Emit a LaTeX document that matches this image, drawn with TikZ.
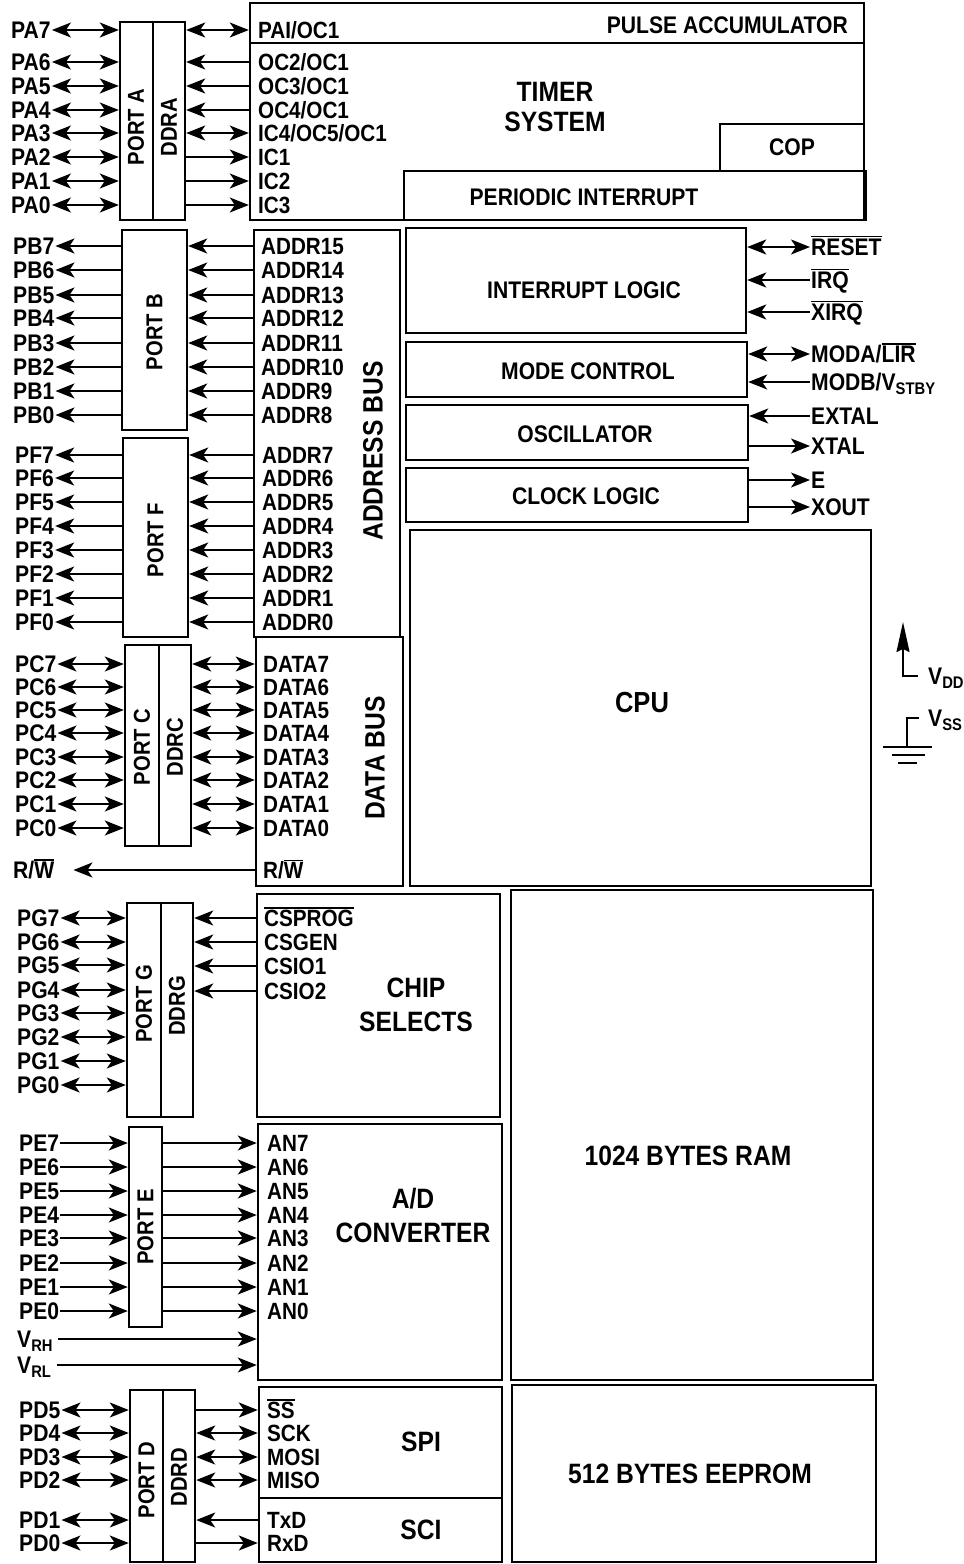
\documentclass[tikz,border=0pt]{standalone}
\usepackage{fontspec}
\setmainfont[FakeStretch=0.88]{Liberation Sans}
\usetikzlibrary{arrows.meta,fit,calc}
\newcommand{\ovl}[1]{\vbox{\hrule height 1.4pt\kern1.3pt\hbox{#1}}}
\newcommand{\sla}{/}
\newcommand{\pinf}{\fontsize{24}{26}\selectfont\bfseries}
\newcommand{\labf}{\fontsize{23.5}{26}\selectfont\bfseries}
\newcommand{\midf}{\fontsize{24}{28}\selectfont\bfseries}
\newcommand{\bigf}{\fontsize{28}{34}\selectfont\bfseries}
\tikzset{pintip/.tip={Stealth[length=19pt,width=15pt,inset=5pt]}}

\begin{document}
\begin{tikzpicture}[
  x=1pt, y=-1pt,
  blk/.style={draw, line width=2.4pt, inner sep=0pt},
  sig/.style={line width=1.7pt},
  fwd/.style={sig,-pintip},
  bwd/.style={sig,pintip-},
  bid/.style={sig,pintip-pintip},
  pin/.style={font=\pinf, inner sep=1pt, text height=17pt, text depth=0pt},
  lab/.style={font=\labf, inner sep=1pt, anchor=west, text height=17pt, text depth=0pt},
  midt/.style={font=\midf, inner sep=0pt},
  bigt/.style={font=\bigf, inner sep=0pt, align=center},
  vert/.style={font=\fontsize{23}{26}\selectfont\bfseries, rotate=90, inner sep=0pt},
]
\useasboundingbox (0,0) rectangle (964,1564);
% blocks
\node[blk, fit={(250,3) (864,220)}] (timer) {};
\node[blk, fit={(720,124) (864,171)}] (cop) {};
\node[blk, fit={(404,171) (866,220)}] (pint) {};
\draw[blk] (250,43) -- (864,43);
\node[blk, fit={(120,22) (185,220)}] (porta) {};
\draw[blk] (153,22) -- (153,220);
\node[blk, fit={(122,230) (187,430)}] (portb) {};
\node[blk, fit={(123,438) (188,637)}] (portf) {};
\node[blk, fit={(254,230) (400,637)}] (abus) {};
\node[blk, fit={(256,637) (403,886)}] (dbus) {};
\node[blk, fit={(406,228) (746,333)}] (intl) {};
\node[blk, fit={(406,342) (747,397)}] (modec) {};
\node[blk, fit={(406,405) (748,460)}] (osc) {};
\node[blk, fit={(406,468) (748,522)}] (clk) {};
\node[blk, fit={(410,530) (871,886)}] (cpu) {};
\node[blk, fit={(125,645) (191,846)}] (portc) {};
\draw[blk] (159,645) -- (159,846);
\node[blk, fit={(127,903) (193,1117)}] (portg) {};
\draw[blk] (161,903) -- (161,1117);
\node[blk, fit={(257,894) (500,1117)}] (cs) {};
\node[blk, fit={(511,890) (873,1380)}] (ram) {};
\node[blk, fit={(129,1127) (162,1327)}] (porte) {};
\node[blk, fit={(258,1124) (502,1380)}] (ad) {};
\node[blk, fit={(130,1390) (195,1562)}] (portd) {};
\draw[blk] (163,1390) -- (163,1562);
\node[blk, fit={(259,1387) (502,1498)}] (spi) {};
\node[blk, fit={(259,1498) (502,1562)}] (sci) {};
\node[blk, fit={(512,1385) (876,1562)}] (eeprom) {};
% block titles
\node[midt, anchor=east] (pacc) at (848,25) {PULSE ACCUMULATOR};
\node[bigt, font=\fontsize{28}{31}\selectfont\bfseries] (tsys) at (555,107) {TIMER\\SYSTEM};
\node[midt] (copt) at (cop.center) {COP};
\node[midt] (pintt) at (584,197) {PERIODIC INTERRUPT};
\node[midt] (intlt) at (584,290) {INTERRUPT LOGIC};
\node[midt] (modect) at (588,371) {MODE CONTROL};
\node[midt] (osct) at (585,434) {OSCILLATOR};
\node[midt] (clkt) at (586,496) {CLOCK LOGIC};
\node[bigt, font=\fontsize{29}{32}\selectfont\bfseries] (cput) at (642,703) {CPU};
\node[bigt] (ramt) at (688,1156) {1024 BYTES RAM};
\node[bigt] (eepromt) at (690,1474) {512 BYTES EEPROM};
\node[bigt] (cst) at (416,1005) {CHIP\\SELECTS};
\node[bigt] (adt) at (413,1215) {A\sla D\\CONVERTER};
\node[bigt] (spit) at (421,1442) {SPI};
\node[bigt] (scit) at (421,1530) {SCI};
\node[vert, font=\bigf] (abust) at (373,451) {ADDRESS BUS};
\node[vert, font=\bigf] (dbust) at (375,758) {DATA BUS};
\node[vert] (portat) at (136,127) {PORT A};
\node[vert] (ddrat) at (169,127) {DDRA};
\node[vert] (portbt) at (154.5,332) {PORT B};
\node[vert] (portft) at (155.5,540) {PORT F};
\node[vert] (portct) at (142,747) {PORT C};
\node[vert] (ddrct) at (175,747) {DDRC};
\node[vert] (portgt) at (144,1004) {PORT G};
\node[vert] (ddrgt) at (177,1006) {DDRG};
\node[vert] (portet) at (145.5,1227) {PORT E};
\node[vert] (portdt) at (146.5,1480) {PORT D};
\node[vert] (ddrdt) at (179,1477) {DDRD};
% port A and timer
\foreach \n/\yy/\lab/\arr in {7/30/PAI\sla OC1/bid, 6/62/OC2\sla OC1/bwd, 5/86/OC3\sla OC1/bwd,
    4/110/OC4\sla OC1/bwd, 3/133/IC4\sla OC5\sla OC1/bid, 2/157/IC1/fwd, 1/181/IC2/fwd, 0/205/IC3/fwd}{
  \node[pin, anchor=west] (pa\n) at (10,\yy) {PA\n};
  \node[lab] (ta\n) at (257,\yy) {\lab};
  \draw[bid] (pa\n) -- (porta.west |- pa\n);
  \draw[\arr] (porta.east |- pa\n) -- (timer.west |- pa\n);
}
% port B, port F and address bus
\foreach \n/\yy/\a in {7/246/15, 6/270/14, 5/295/13, 4/318/12, 3/343/11, 2/367/10, 1/391/9, 0/415/8}{
  \node[pin, anchor=west] (pb\n) at (12,\yy) {PB\n};
  \node[lab] (ab\n) at (260,\yy) {ADDR\a};
  \draw[bwd] (pb\n) -- (portb.west |- pb\n);
  \draw[bwd] (portb.east |- pb\n) -- (abus.west |- pb\n);
}
\foreach \n/\yy in {7/455, 6/478, 5/502, 4/526, 3/550, 2/574, 1/598, 0/622}{
  \node[pin, anchor=west] (pf\n) at (14,\yy) {PF\n};
  \node[lab] (af\n) at (261,\yy) {ADDR\n};
  \draw[bwd] (pf\n) -- (portf.west |- pf\n);
  \draw[bwd] (portf.east |- pf\n) -- (abus.west |- pf\n);
}
% port C and data bus
\foreach \n/\yy in {7/664, 6/687, 5/710, 4/733, 3/757, 2/780, 1/804, 0/828}{
  \node[pin, anchor=west] (pc\n) at (14,\yy) {PC\n};
  \node[lab] (dc\n) at (262,\yy) {DATA\n};
  \draw[bid] (pc\n) -- (portc.west |- pc\n);
  \draw[bid] (portc.east |- pc\n) -- (dbus.west |- pc\n);
}
\node[pin, anchor=west] (rwp) at (12,870) {R\sla\ovl{W}};
\node[lab] (rwl) at (262,870) {R\sla\ovl{W}};
\draw[bwd] ([xshift=18pt]rwp.east) -- (dbus.west |- rwp);
% port G and chip selects
\foreach \n/\yy in {7/918, 6/942, 5/965, 4/990, 3/1013, 2/1037, 1/1061, 0/1085}{
  \node[pin, anchor=west] (pg\n) at (16,\yy) {PG\n};
  \draw[bid] (pg\n) -- (portg.west |- pg\n);
}
\foreach \n/\yy/\lab in {7/918/\ovl{CSPROG}, 6/942/CSGEN, 5/966/CSIO1, 4/991/CSIO2}{
  \node[lab] (cs\n) at (263,\yy) {\lab};
  \draw[bwd] (portg.east |- cs\n) -- (cs.west |- cs\n);
}
% port E and A/D
\foreach \n/\yy in {7/1143, 6/1167, 5/1191, 4/1215, 3/1238, 2/1263, 1/1287, 0/1311}{
  \node[pin, anchor=west] (pe\n) at (18,\yy) {PE\n};
  \node[lab] (an\n) at (266,\yy) {AN\n};
  \draw[fwd] (pe\n) -- (porte.west |- pe\n);
  \draw[fwd] (porte.east |- pe\n) -- (ad.west |- pe\n);
}
\node[pin, anchor=west] (vrh) at (16,1339) {V\textsubscript{RH}};
\node[pin, anchor=west] (vrl) at (16,1365) {V\textsubscript{RL}};
\draw[fwd] ([xshift=4pt]vrh.east) -- (ad.west |- vrh);
\draw[fwd] ([xshift=4pt]vrl.east) -- (ad.west |- vrl);
% port D, SPI and SCI
\foreach \n/\yy/\lab/\arr in {5/1410/\ovl{SS}/fwd, 4/1433/SCK/bid, 3/1457/MOSI/bid, 2/1480/MISO/bid,
    1/1520/TxD/bwd, 0/1543/RxD/fwd}{
  \node[pin, anchor=west] (pd\n) at (18,\yy) {PD\n};
  \node[lab] (sp\n) at (266,\yy) {\lab};
  \draw[bid] (pd\n) -- (portd.west |- pd\n);
  \draw[\arr] (portd.east |- pd\n) -- (spi.west |- pd\n);
}
% control pins on the right
\foreach \s/\yy/\lab/\arr/\bx in {rst/247/\ovl{RESET}/bid/intl, irq/280/\ovl{IRQ}/bwd/intl,
    xirq/312/\ovl{XIRQ}/bwd/intl, moda/354/MODA\sla\ovl{LIR}/bid/modec,
    modb/382/MODB\sla V\textsubscript{STBY}/bwd/modec, extal/416/EXTAL/bwd/osc,
    xtal/446/XTAL/fwd/osc, eclk/480/E/fwd/clk, xout/507/XOUT/fwd/clk}{
  \node[pin, anchor=west] (\s) at (810,\yy) {\lab};
  \draw[\arr] (\bx.east |- \s) -- (\s);
}
% supply
\node[pin, anchor=west] (vdd) at (927,676) {V\textsubscript{DD}};
\node[pin, anchor=west] (vss) at (927,718) {V\textsubscript{SS}};
\coordinate (vddtip) at (903,622);
\coordinate (gnd) at (907,747);
\draw[sig, -{Stealth[length=30pt,width=13pt,inset=3pt]}] ([xshift=-9pt]vdd.west) -| (vddtip);
\draw[sig] ([xshift=-8pt]vss.west) -| (gnd);
\draw[line width=2.4pt] ($(gnd)+(-24,0)$) -- ($(gnd)+(25,0)$);
\draw[line width=2.4pt] ($(gnd)+(-15,8)$) -- ($(gnd)+(18,8)$);
\draw[line width=2.4pt] ($(gnd)+(-9,16)$) -- ($(gnd)+(10,16)$);
\end{tikzpicture}
\end{document}
